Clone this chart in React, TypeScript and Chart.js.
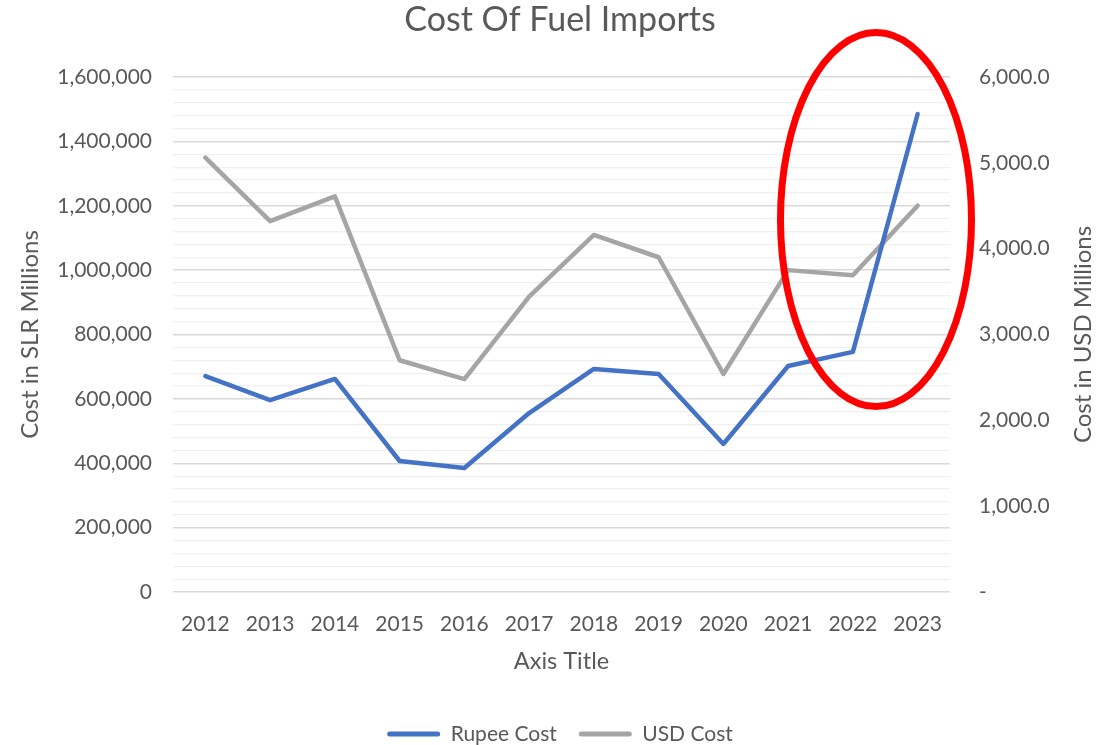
import React, { useEffect, useRef } from 'react';
import { Chart, registerables } from 'chart.js';

Chart.register(...registerables);

// ---- data ----
const years = ['2012', '2013', '2014', '2015', '2016', '2017', '2018', '2019', '2020', '2021', '2022', '2023'];
const rupeeCost = [671000, 596000, 662000, 407000, 385000, 556000, 693000, 677000, 460000, 702000, 746000, 1485000];
const usdCost = [5060, 4320, 4610, 2700, 2480, 3440, 4160, 3900, 2540, 3750, 3690, 4500];

const leftMin = 0;
const leftMax = 1600000;
const leftMajorStep = 200000;
const leftMinorStep = 40000;
const rightMin = 0;
const rightMax = 6000;
const rightStep = 1000;

// annotation ellipse (data units: category index / left-axis value)
const ellipseCenterIndex = 10.357;
const ellipseCenterValue = 1157000;
const ellipseRadiusCategories = 1.475;
const ellipseRadiusValue = 581000;

const FONT = 'Lato, "Open Sans", sans-serif';
const TEXT = '#595959';

const ellipsePlugin = {
  id: 'ellipseAnnotation',
  afterDatasetsDraw(chart: any) {
    const x = chart.scales.x;
    const y = chart.scales.y;
    const cx = x.getPixelForValue(ellipseCenterIndex);
    const cy = y.getPixelForValue(ellipseCenterValue);
    const rx = Math.abs(x.getPixelForValue(ellipseCenterIndex + ellipseRadiusCategories) - cx);
    const ry = Math.abs(y.getPixelForValue(ellipseCenterValue + ellipseRadiusValue) - cy);
    const ctx = chart.ctx;
    ctx.save();
    ctx.beginPath();
    ctx.ellipse(cx, cy, rx, ry, 0, 0, Math.PI * 2);
    ctx.strokeStyle = '#FF0000';
    ctx.lineWidth = 7;
    ctx.stroke();
    ctx.restore();
  },
};

const rightTitlePlugin = {
  id: 'rightTitle',
  afterDraw(chart: any) {
    const s = chart.scales.y1;
    const area = chart.chartArea;
    const ctx = chart.ctx;
    ctx.save();
    ctx.translate(s.right - 37, (area.top + area.bottom) / 2);
    ctx.rotate(-Math.PI / 2);
    ctx.font = `24px ${FONT}`;
    ctx.fillStyle = TEXT;
    ctx.textAlign = 'center';
    ctx.textBaseline = 'middle';
    ctx.fillText('Cost in USD Millions', 0, 0);
    ctx.restore();
  },
};

export default function App() {
  const ref = useRef<HTMLCanvasElement | null>(null);

  useEffect(() => {
    document.body.style.margin = '0';
    document.body.style.overflow = 'hidden';
    const canvas = ref.current;
    if (!canvas) return;
    const chart = new Chart(canvas, {
      type: 'line',
      data: {
        labels: years,
        datasets: [
          {
            label: 'Rupee Cost',
            data: rupeeCost,
            borderColor: '#4472C4',
            backgroundColor: '#4472C4',
            borderWidth: 4.5,
            pointRadius: 0,
            borderCapStyle: 'round',
            borderJoinStyle: 'round',
            tension: 0,
            yAxisID: 'y',
          },
          {
            label: 'USD Cost',
            data: usdCost,
            borderColor: '#A5A5A5',
            backgroundColor: '#A5A5A5',
            borderWidth: 4.5,
            pointRadius: 0,
            borderCapStyle: 'round',
            borderJoinStyle: 'round',
            tension: 0,
            yAxisID: 'y1',
          },
        ],
      },
      options: {
        responsive: false,
        animation: false,
        layout: { padding: { left: 0, right: 0, top: 0, bottom: -9.5 } },
        plugins: {
          title: {
            display: true,
            text: 'Cost Of Fuel Imports',
            color: TEXT,
            font: { family: FONT, size: 34, weight: 'normal' },
            padding: { top: 0, bottom: 36.2 },
          },
          legend: {
            position: 'bottom',
            labels: {
              color: TEXT,
              font: { family: FONT, size: 21 },
              boxWidth: 53,
              boxHeight: 5,
              padding: 22,
              useBorderRadius: true,
              borderRadius: 2.5,
              generateLabels(chart: any) {
                const items = Chart.defaults.plugins.legend.labels.generateLabels(chart);
                return items.map((it: any) => ({ ...it, lineWidth: 0, strokeStyle: 'rgba(0,0,0,0)' }));
              },
            },
          },
          tooltip: { enabled: false },
        },
        scales: {
          x: {
            offset: true,
            grid: { display: false, drawTicks: false, offset: true },
            border: { display: false },
            ticks: { color: TEXT, font: { family: FONT, size: 21 }, padding: 20, maxRotation: 0 },
            title: {
              display: true,
              text: 'Axis Title',
              color: TEXT,
              font: { family: FONT, size: 23.5 },
              padding: { top: 0, bottom: 26.4 },
            },
            afterFit(scale: any) {
              scale.height = 109.5;
            },
          },
          y: {
            position: 'left',
            min: leftMin,
            max: leftMax,
            grid: {
              drawTicks: false,
              color: (c: any) => (c.tick && c.tick.value % leftMajorStep === 0 ? '#D9D9D9' : '#F0F0F0'),
              lineWidth: (c: any) => (c.tick && c.tick.value % leftMajorStep === 0 ? 1.5 : 1.2),
            },
            border: { display: false },
            ticks: {
              stepSize: leftMinorStep,
              autoSkip: false,
              color: TEXT,
              font: { family: FONT, size: 21 },
              padding: 21,
              callback: (v: any) => (Number(v) % leftMajorStep === 0 ? Number(v).toLocaleString('en-US') : ''),
            },
            title: {
              display: true,
              text: 'Cost in SLR Millions',
              color: TEXT,
              font: { family: FONT, size: 24 },
              padding: { top: 15.6, bottom: 0 },
            },
            afterFit(scale: any) {
              scale.width = 173;
            },
          },
          y1: {
            position: 'right',
            min: rightMin,
            max: rightMax,
            grid: { display: false, drawTicks: false },
            border: { display: false },
            ticks: {
              stepSize: rightStep,
              color: TEXT,
              font: { family: FONT, size: 21 },
              padding: 29,
              callback: (v: any) =>
                Number(v) === 0
                  ? '-'
                  : Number(v).toLocaleString('en-US', { minimumFractionDigits: 1, maximumFractionDigits: 1 }),
            },
            afterFit(scale: any) {
              scale.width = 170;
            },
          },
        },
      },
      plugins: [ellipsePlugin, rightTitlePlugin],
    } as any);
    return () => chart.destroy();
  }, []);

  return (
    <div style={{ width: 1120, height: 745, background: '#ffffff' }}>
      <canvas ref={ref} width={1120} height={745} />
    </div>
  );
}
